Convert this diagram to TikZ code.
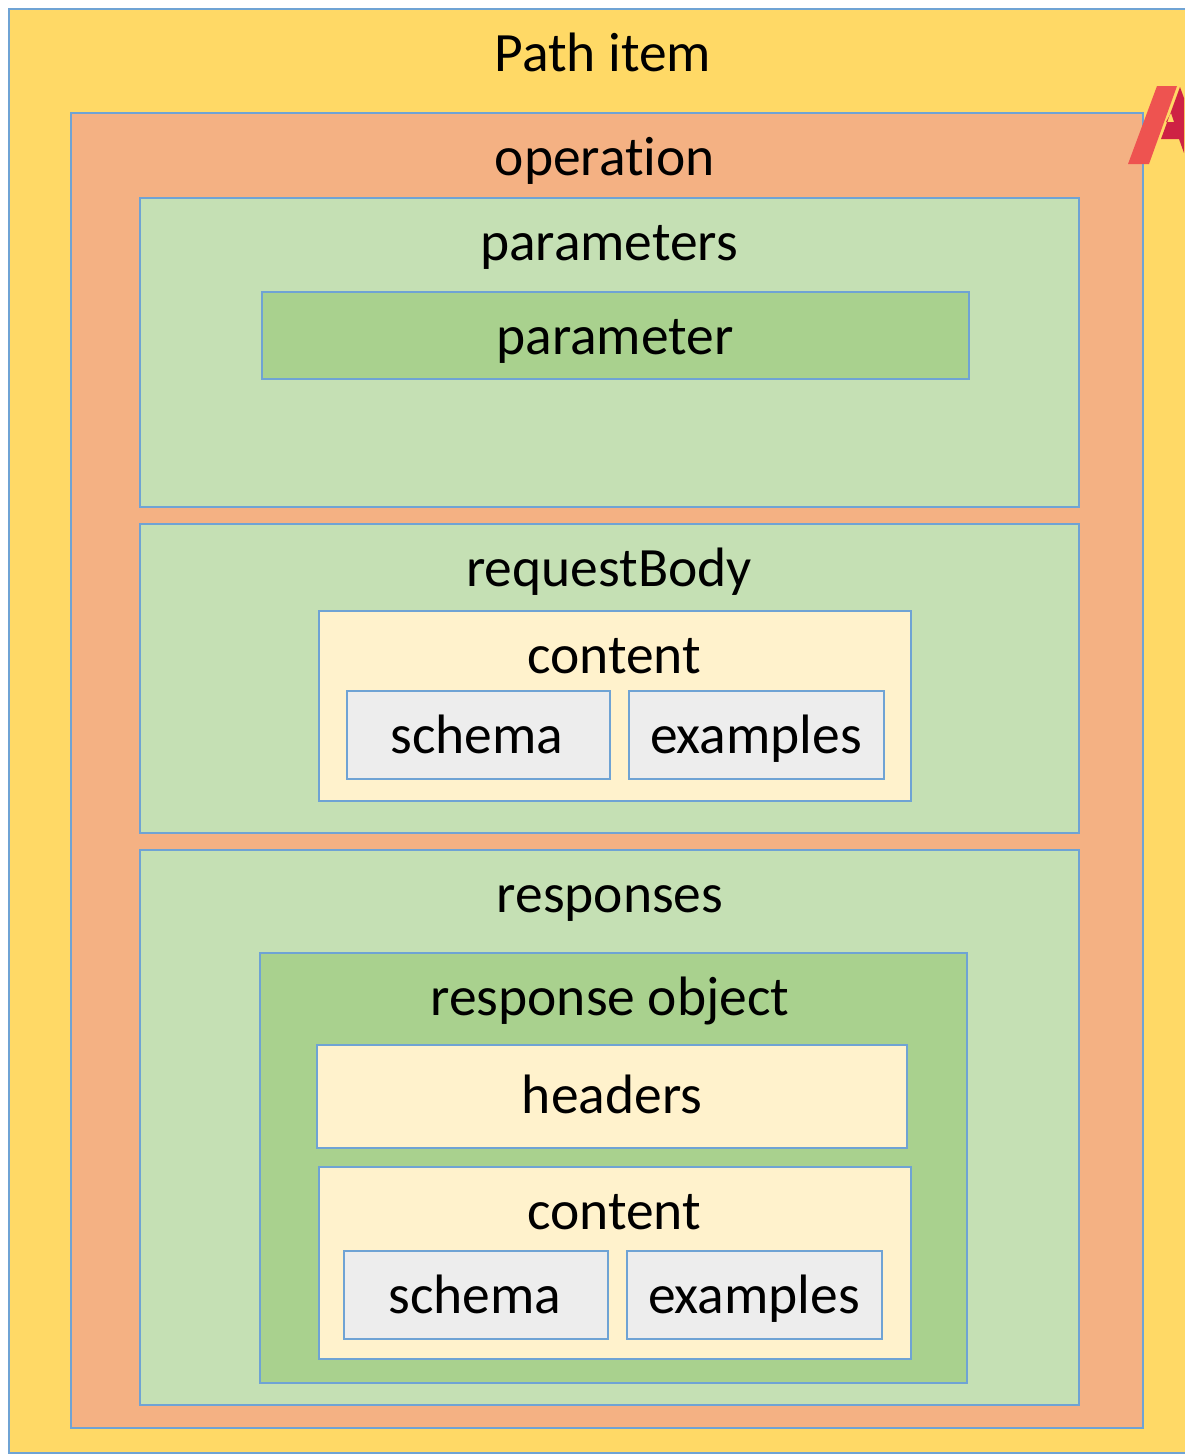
\documentclass[tikz,border=0pt]{standalone}
\usepackage{fontspec}
\setmainfont[RawFeature={-liga}]{Carlito}
\definecolor{edgeblue}{HTML}{6FA3D4}
\definecolor{pathfill}{HTML}{FFD966}
\definecolor{opfill}{HTML}{F4B183}
\definecolor{lightgreen}{HTML}{C5E0B4}
\definecolor{midgreen}{HTML}{A9D18E}
\definecolor{cream}{HTML}{FFF2CC}
\definecolor{grayfill}{HTML}{EDEDED}
\definecolor{logolight}{HTML}{EE5350}
\definecolor{logodark}{HTML}{CE2244}
\tikzset{
  boxa/.style={draw=edgeblue,line width=2.6pt},
  lbl/.style={font=\fontsize{55.5}{60}\selectfont,text=black,inner sep=0pt,anchor=base}
}
\newcommand{\pbox}[6]{\path[boxa,fill=#6] (#2,#3) rectangle (#4,#5) coordinate (#1);}
\begin{document}
\begin{tikzpicture}[x=1pt,y=-1pt]
\useasboundingbox (0,0) rectangle (1184,1456);
\fill[white] (0,0) rectangle (1184,1456);
\pbox{p}{9}{9}{1190}{1453}{pathfill}
\pbox{o}{71}{113}{1143}{1428}{opfill}
\fill[logolight] (1157,86) -- (1177,86) -- (1149,164) -- (1128,164) -- cycle;
\fill[logodark,even odd rule] (1180,87) -- (1184,98) -- (1184,153) -- (1179,139) -- (1161,139) -- cycle
  (1166,122) -- (1171,113) -- (1174,122) -- cycle;
\pbox{a}{140}{198}{1079}{507}{lightgreen}
\pbox{b}{262}{292}{969}{379}{midgreen}
\pbox{c}{140}{524}{1079}{833}{lightgreen}
\pbox{d}{319}{611}{911}{801}{cream}
\pbox{e}{347}{691}{610}{779}{grayfill}
\pbox{f}{629}{691}{884}{779}{grayfill}
\pbox{g}{140}{850}{1079}{1405}{lightgreen}
\pbox{h}{260}{953}{967}{1383}{midgreen}
\pbox{i}{317}{1045}{907}{1148}{cream}
\pbox{j}{319}{1167}{911}{1359}{cream}
\pbox{k}{344}{1251}{608}{1339}{grayfill}
\pbox{l}{627}{1251}{882}{1339}{grayfill}
\node[lbl] (t1) at (603,71) {Path item};
\node[lbl] (t2) at (605,175) {operation};
\node[lbl] (t3) at (609,260) {parameters};
\node[lbl] (t4) at (615,354) {parameter};
\node[lbl] (t5) at (609,586) {requestBody};
\node[lbl] (t6) at (614,673) {content};
\node[lbl] (t7) at (477,753) {schema};
\node[lbl] (t8) at (756,753) {examples};
\node[lbl] (t9) at (610,912) {responses};
\node[lbl] (t10) at (610,1015) {response object};
\node[lbl] (t11) at (612,1113) {headers};
\node[lbl] (t12) at (614,1229) {content};
\node[lbl] (t13) at (475,1313) {schema};
\node[lbl] (t14) at (754,1313) {examples};
\end{tikzpicture}
\end{document}
